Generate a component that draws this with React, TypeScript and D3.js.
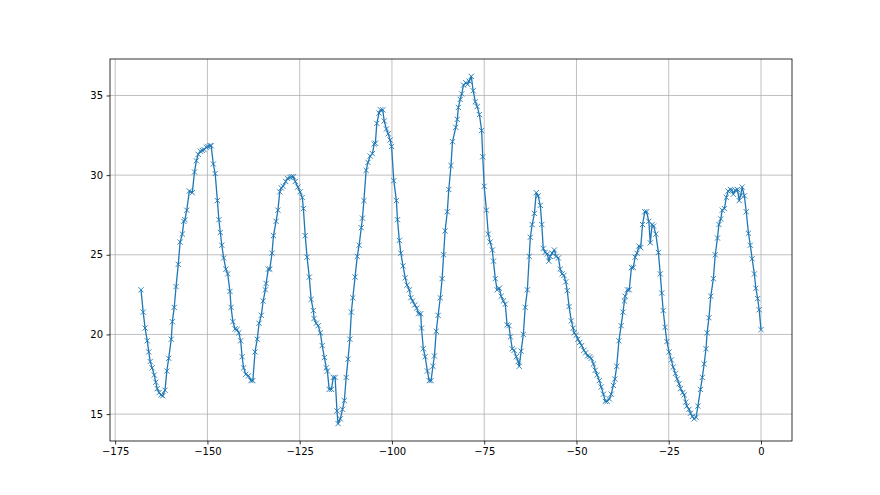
import React, { useEffect, useRef } from 'react';
import * as d3 from 'd3';

// x positions (time offset)
const xValues = [
  -168.0, -167.4, -166.9, -166.3, -165.9, -165.5, -165.0, -164.4, -164.0, -163.6,
  -163.1, -162.6, -162.1, -161.5, -161.0, -160.5, -159.8, -159.5, -159.0, -158.5,
  -157.9, -157.4, -156.8, -156.4, -156.1, -155.6, -154.9, -154.1, -153.5, -153.0,
  -152.5, -151.9, -151.4, -150.9, -150.3, -149.9, -149.3, -149.0, -148.4, -147.9,
  -147.3, -146.9, -146.5, -146.1, -145.6, -145.0, -144.5, -143.9, -143.6, -143.1,
  -142.5, -142.0, -141.5, -141.0, -140.6, -140.2, -139.6, -138.9, -138.2, -137.7,
  -137.1, -136.5, -136.0, -135.4, -134.9, -134.3, -134.1, -133.5, -133.1, -132.5,
  -132.1, -131.4, -130.9, -130.4, -130.0, -129.5, -128.8, -128.3, -127.6, -127.2,
  -126.7, -126.2, -125.5, -124.9, -124.3, -124.0, -123.5, -123.0, -122.4, -121.9,
  -121.3, -121.1, -120.5, -120.0, -119.4, -118.9, -118.3, -117.8, -117.5, -117.0,
  -116.4, -115.9, -115.4, -114.9, -114.6, -114.0, -113.4, -112.9, -112.4, -111.9,
  -111.4, -111.0, -110.6, -110.0, -109.4, -108.9, -108.3, -108.0, -107.6, -107.0,
  -106.5, -105.9, -105.3, -104.8, -104.5, -104.1, -103.5, -103.1, -102.5, -102.1,
  -101.5, -101.0, -100.5, -100.1, -99.5, -98.8, -98.5, -98.0, -97.6, -97.0,
  -96.4, -95.9, -95.3, -94.9, -94.4, -93.8, -93.3, -92.8, -92.2, -92.0,
  -91.5, -91.0, -90.4, -89.9, -89.4, -88.9, -88.5, -88.0, -87.5, -86.9,
  -86.4, -86.0, -85.6, -85.0, -84.6, -84.0, -83.6, -82.7, -82.3, -82.0,
  -81.5, -81.1, -80.6, -80.0, -79.5, -79.1, -78.5, -78.0, -77.4, -76.9,
  -76.3, -75.7, -75.4, -75.0, -74.4, -73.9, -73.4, -72.8, -72.5, -72.0,
  -71.5, -70.9, -70.4, -69.8, -69.3, -68.8, -68.3, -67.9, -67.4, -66.9,
  -66.3, -65.8, -65.5, -65.0, -64.4, -63.9, -63.3, -62.8, -62.5, -62.0,
  -61.4, -60.9, -60.4, -59.8, -59.4, -59.0, -58.5, -57.9, -57.5, -57.1,
  -56.6, -56.0, -55.5, -54.9, -54.4, -53.9, -53.4, -52.9, -52.5, -52.0,
  -51.4, -50.9, -50.6, -50.1, -49.6, -49.1, -48.6, -48.0, -47.5, -47.0,
  -46.4, -46.0, -45.4, -44.9, -44.4, -43.8, -43.3, -42.7, -42.2, -41.7,
  -41.1, -40.6, -40.0, -39.6, -39.1, -38.5, -37.9, -37.4, -37.0, -36.8,
  -36.2, -35.7, -35.1, -34.6, -34.1, -33.6, -33.1, -32.6, -32.1, -31.5,
  -31.0, -30.4, -30.0, -29.5, -29.1, -28.5, -27.8, -27.3, -26.9, -26.5,
  -26.0, -25.5, -24.9, -24.3, -23.8, -23.2, -22.7, -22.2, -21.8, -21.2,
  -20.8, -20.4, -20.1, -19.5, -19.1, -18.6, -18.1, -17.6, -17.1, -16.4,
  -15.9, -15.4, -14.9, -14.6, -14.1, -13.6, -12.9, -12.4, -11.8, -11.4,
  -10.9, -10.5, -9.9, -9.4, -8.9, -8.3, -7.9, -7.5, -7.0, -6.4,
  -5.9, -5.5, -5.1, -4.5, -4.0, -3.4, -2.9, -2.4, -1.8, -1.4,
  -0.9, -0.5, 0.0,
];

const yValues = [
  22.8, 21.4, 20.4, 19.6, 18.9, 18.3, 17.9, 17.45, 17.0, 16.6,
  16.35, 16.2, 16.15, 16.5, 17.7, 18.5, 19.7, 20.8, 21.7, 23.0,
  24.4, 25.8, 26.3, 27.1, 27.2, 27.8, 29.0, 28.9, 30.2, 30.9,
  31.3, 31.5, 31.55, 31.6, 31.75, 31.8, 31.85, 31.85, 30.7, 30.1,
  28.4, 27.2, 26.4, 25.6, 24.8, 24.1, 23.8, 22.7, 21.7, 20.8,
  20.35, 20.3, 20.1, 19.6, 18.6, 17.9, 17.5, 17.4, 17.1, 17.1,
  18.9, 19.7, 20.7, 21.2, 22.1, 22.8, 23.2, 24.1, 24.1, 25.1,
  26.2, 27.1, 27.8, 28.95, 29.2, 29.3, 29.6, 29.8, 29.85, 29.9,
  29.9, 29.6, 29.25, 28.95, 28.6, 27.9, 26.2, 24.85, 23.6, 22.2,
  21.5, 21.0, 20.7, 20.55, 20.1, 19.3, 18.55, 17.9, 17.7, 16.55,
  16.55, 17.3, 17.3, 15.2, 14.4, 14.7, 15.3, 15.85, 17.3, 18.45,
  19.7, 21.4, 22.3, 23.6, 24.9, 25.6, 26.7, 27.3, 28.4, 30.3,
  30.8, 31.2, 31.35, 31.95, 32.0, 33.25, 33.9, 34.1, 34.1, 33.4,
  32.9, 32.6, 32.2, 31.8, 29.65, 28.4, 27.2, 25.9, 25.1, 24.3,
  23.55, 23.1, 22.8, 22.3, 22.1, 21.85, 21.65, 21.3, 21.3, 20.4,
  19.1, 18.6, 17.7, 17.1, 17.1, 18.0, 18.65, 20.2, 21.2, 22.3,
  23.5, 25.0, 26.5, 27.7, 29.1, 30.6, 32.1, 33.0, 33.5, 34.25,
  34.75, 35.1, 35.65, 35.8, 35.7, 35.9, 36.2, 35.3, 34.6, 34.3,
  33.8, 32.8, 31.15, 29.3, 27.8, 26.3, 25.8, 25.3, 24.6, 23.5,
  22.8, 22.9, 22.4, 22.1, 21.9, 20.6, 20.55, 19.85, 19.1, 19.0,
  18.6, 18.3, 18.0, 18.95, 20.0, 21.7, 22.8, 24.9, 26.1, 26.9,
  27.6, 28.9, 28.7, 28.1, 26.9, 25.4, 25.15, 25.05, 24.6, 24.9,
  25.1, 25.3, 24.9, 24.8, 24.1, 23.8, 23.7, 23.3, 22.75, 21.75,
  20.85, 20.4, 20.1, 19.95, 19.7, 19.5, 19.3, 19.0, 18.85, 18.65,
  18.6, 18.5, 18.15, 17.75, 17.45, 17.1, 16.7, 16.25, 15.8, 15.8,
  15.95, 16.25, 16.8, 17.2, 18.0, 19.6, 20.55, 21.4, 22.1, 22.4,
  22.8, 22.8, 24.2, 24.2, 24.85, 25.1, 25.55, 25.45, 26.9, 27.7,
  27.7, 27.1, 25.75, 26.9, 26.8, 26.3, 25.15, 23.8, 22.6, 21.5,
  20.45, 19.55, 18.9, 18.4, 17.95, 17.55, 17.2, 16.9, 16.6, 16.35,
  16.2, 15.75, 15.5, 15.3, 15.05, 14.85, 14.7, 14.8, 15.5, 16.55,
  17.3, 18.15, 19.1, 20.1, 21.05, 22.4, 23.5, 25.0, 26.05, 26.9,
  27.25, 27.8, 27.9, 28.6, 29.0, 29.1, 29.05, 28.8, 29.05, 29.1,
  28.4, 28.75, 29.25, 28.7, 27.7, 26.35, 25.6, 24.75, 23.8, 22.9,
  22.25, 21.55, 20.3,
];

const xTicks = [-175, -150, -125, -100, -75, -50, -25, 0];
const yTicks = [15, 20, 25, 30, 35];

const W = 880;
const H = 495;

const fmt = (v: number) => (v < 0 ? '\u2212' + Math.abs(v) : String(v));

export default function App() {
  const svgRef = useRef<SVGSVGElement>(null);

  useEffect(() => {
    if (!svgRef.current) return;
    const svg = d3.select(svgRef.current);
    svg.selectAll('*').remove();

    const margin = { top: 59, right: 88, bottom: 54, left: 110 };
    const innerWidth = W - margin.left - margin.right;
    const innerHeight = H - margin.top - margin.bottom;

    const data = xValues.map((x, i) => ({ x, y: yValues[i] }));

    // matplotlib-style 5% margins
    const xExt = d3.extent(xValues) as [number, number];
    const yExt = d3.extent(yValues) as [number, number];
    const xPad = (xExt[1] - xExt[0]) * 0.05;
    const yPad = (yExt[1] - yExt[0]) * 0.05;

    const xScale = d3.scaleLinear()
      .domain([xExt[0] - xPad, xExt[1] + xPad])
      .range([0, innerWidth]);
    const yScale = d3.scaleLinear()
      .domain([yExt[0] - yPad, yExt[1] + yPad])
      .range([innerHeight, 0]);

    svg.append('rect').attr('width', W).attr('height', H).attr('fill', '#fff');

    const g = svg.append('g')
      .attr('transform', `translate(${margin.left},${margin.top})`);

    // Gridlines
    g.append('g')
      .selectAll('line')
      .data(xTicks)
      .join('line')
      .attr('x1', d => xScale(d))
      .attr('x2', d => xScale(d))
      .attr('y1', 0)
      .attr('y2', innerHeight)
      .attr('stroke', '#b0b0b0')
      .attr('stroke-width', 0.8);

    g.append('g')
      .selectAll('line')
      .data(yTicks)
      .join('line')
      .attr('x1', 0)
      .attr('x2', innerWidth)
      .attr('y1', d => yScale(d))
      .attr('y2', d => yScale(d))
      .attr('stroke', '#b0b0b0')
      .attr('stroke-width', 0.8);

    // Line
    const line = d3.line<{ x: number; y: number }>()
      .x(d => xScale(d.x))
      .y(d => yScale(d.y));

    g.append('path')
      .datum(data)
      .attr('fill', 'none')
      .attr('stroke', '#1f77b4')
      .attr('stroke-width', 1.3)
      .attr('stroke-linejoin', 'round')
      .attr('d', line);

    // x markers
    const s = 2.6;
    g.append('g')
      .selectAll('path')
      .data(data)
      .join('path')
      .attr('d', d => {
        const cx = xScale(d.x);
        const cy = yScale(d.y);
        return `M${cx - s},${cy - s}L${cx + s},${cy + s}M${cx - s},${cy + s}L${cx + s},${cy - s}`;
      })
      .attr('stroke', '#1f77b4')
      .attr('stroke-width', 0.9)
      .attr('fill', 'none');

    // Axes
    const xAxis = g.append('g')
      .attr('transform', `translate(0,${innerHeight})`)
      .call(d3.axisBottom(xScale).tickValues(xTicks).tickSize(3.5).tickPadding(3.5).tickFormat(d => fmt(+d)));
    const yAxis = g.append('g')
      .call(d3.axisLeft(yScale).tickValues(yTicks).tickSize(3.5).tickPadding(3.5).tickFormat(d => fmt(+d)));

    [xAxis, yAxis].forEach(a => {
      a.select('.domain').remove();
      a.selectAll('line').attr('stroke', '#000').attr('stroke-width', 0.8);
      a.selectAll('text')
        .attr('fill', '#000')
        .style('font-family', '"DejaVu Sans", sans-serif')
        .style('font-size', '10px');
    });

    // Frame
    g.append('rect')
      .attr('width', innerWidth)
      .attr('height', innerHeight)
      .attr('fill', 'none')
      .attr('stroke', '#000')
      .attr('stroke-width', 0.8);
  }, []);

  return (
    <svg
      ref={svgRef}
      width={W}
      height={H}
      style={{ position: 'absolute', left: 0, top: 0, display: 'block' }}
    />
  );
}
